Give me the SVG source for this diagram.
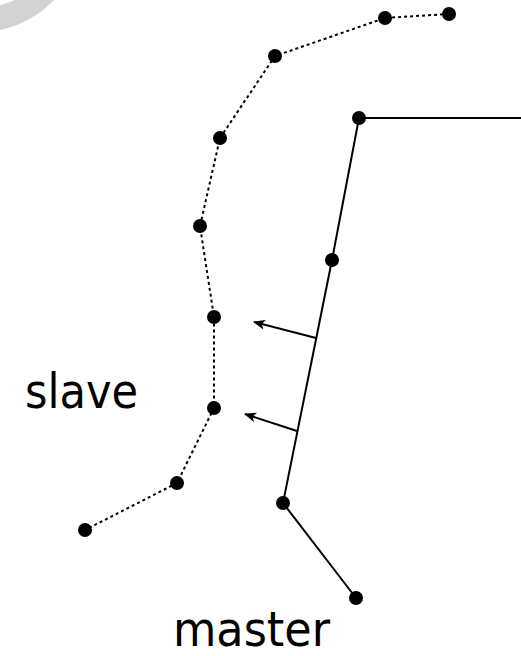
<svg xmlns="http://www.w3.org/2000/svg" width="521" height="656" viewBox="0 0 521 656">
<style>
.dot{fill:#000}
.slave{fill:none;stroke:#000;stroke-width:2;stroke-dasharray:3 3}
.master{fill:none;stroke:#000;stroke-width:2}
.arr{fill:none;stroke:#000;stroke-width:2}
.lbl{font-family:"DejaVu Sans",Verdana,sans-serif;font-size:48px;fill:#000}
</style>
<defs>
<marker id="ah" viewBox="0 0 12 10" refX="11" refY="5" markerWidth="12" markerHeight="10" markerUnits="userSpaceOnUse" orient="auto">
<path d="M0,0 L12,5 L0,10 L3,5 Z" fill="#000"/>
</marker>
</defs>
<rect width="521" height="656" fill="#fff"/>
<circle cx="-20" cy="-70" r="90" fill="none" stroke="#d3d3d3" stroke-width="24"/>
<g id="connectors">
<polyline class="slave" points="449,14 385,18 275,56 220,138 200,226 214,317 214,408 177,483 85,530"/>
<polyline class="master" points="521,118 359,118 332,260 283,503 356,598"/>
<line class="arr" x1="316" y1="338" x2="254" y2="322" marker-end="url(#ah)"/>
<line class="arr" x1="297" y1="431" x2="245" y2="414" marker-end="url(#ah)"/>
</g>
<g id="slave-nodes">
<circle class="dot" cx="449" cy="14" r="7"/>
<circle class="dot" cx="385" cy="18" r="7"/>
<circle class="dot" cx="275" cy="56" r="7"/>
<circle class="dot" cx="220" cy="138" r="7"/>
<circle class="dot" cx="200" cy="226" r="7"/>
<circle class="dot" cx="214" cy="317" r="7"/>
<circle class="dot" cx="214" cy="408" r="7"/>
<circle class="dot" cx="177" cy="483" r="7"/>
<circle class="dot" cx="85" cy="530" r="7"/>
</g>
<g id="master-nodes">
<circle class="dot" cx="359" cy="118" r="7"/>
<circle class="dot" cx="332" cy="260" r="7"/>
<circle class="dot" cx="283" cy="503" r="7"/>
<circle class="dot" cx="356" cy="598" r="7"/>
</g>
<g id="labels">
<text class="lbl" x="25" y="408" textLength="113" lengthAdjust="spacingAndGlyphs">slave</text>
<text class="lbl" x="173" y="646" textLength="157" lengthAdjust="spacingAndGlyphs">master</text>
</g>
</svg>
